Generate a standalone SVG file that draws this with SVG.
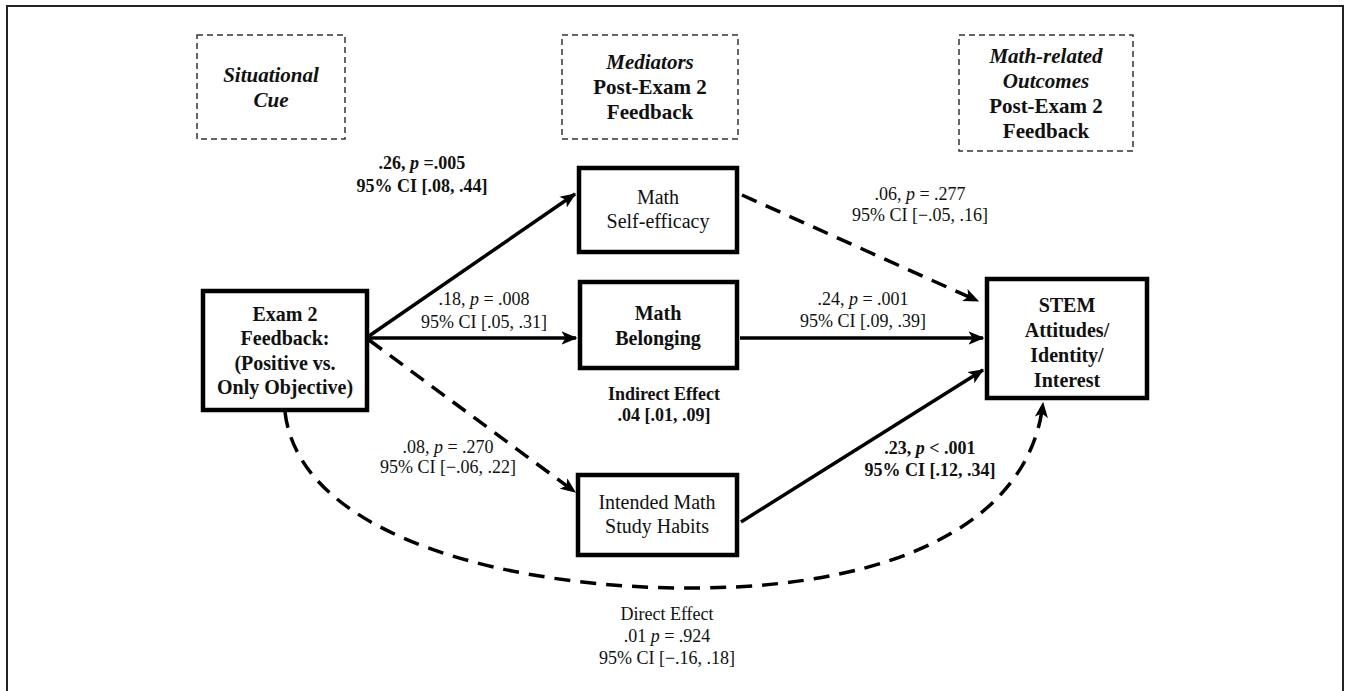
<svg xmlns="http://www.w3.org/2000/svg" width="1346" height="691" viewBox="0 0 1346 691">
<style>
.hdr{fill:none;stroke:#333;stroke-width:1.5;stroke-dasharray:6,4}
.node{fill:#fff;stroke:#000;stroke-width:4.5}
.t{font-family:"Liberation Serif",serif;font-size:20px;fill:#111;text-anchor:middle}
.h{font-family:"Liberation Serif",serif;font-size:21px;fill:#111;text-anchor:middle;font-weight:bold}
.b{font-weight:bold}
.i{font-style:italic}
.lab{font-family:"Liberation Serif",serif;font-size:18px;fill:#111;text-anchor:middle}
.solid{fill:none;stroke:#000;stroke-width:3.5}
.dash{fill:none;stroke:#000;stroke-width:3.5;stroke-dasharray:16,10}
</style>
<defs>
<marker id="ah" viewBox="0 0 12 10" refX="11" refY="5" markerWidth="4.5" markerHeight="4" orient="auto" markerUnits="strokeWidth">
<path d="M0,0 L12,5 L0,10 L3,5 z" fill="#000"/>
</marker>
</defs>
<rect x="7" y="6" width="1336" height="700" fill="none" stroke="#222" stroke-width="2"/>

<g id="hdr-cue">
<rect class="hdr" x="197" y="35" width="148" height="104"/>
<text class="h i" x="271" y="82" font-size="22">Situational</text>
<text class="h i" x="271" y="107" font-size="22">Cue</text>
</g>
<g id="hdr-med">
<rect class="hdr" x="562" y="35" width="176" height="104"/>
<text class="h i" x="650" y="69">Mediators</text>
<text class="h" x="650" y="94">Post-Exam 2</text>
<text class="h" x="650" y="119">Feedback</text>
</g>
<g id="hdr-out">
<rect class="hdr" x="959" y="35" width="174" height="116"/>
<text class="h i" x="1046" y="63">Math-related</text>
<text class="h i" x="1046" y="88">Outcomes</text>
<text class="h" x="1046" y="113">Post-Exam 2</text>
<text class="h" x="1046" y="138">Feedback</text>
</g>

<g id="connectors">
<line class="solid" x1="369" y1="336" x2="575" y2="194" marker-end="url(#ah)"/>
<line class="solid" x1="369" y1="338" x2="576" y2="338" marker-end="url(#ah)"/>
<line class="dash" x1="369" y1="340" x2="575" y2="492" marker-end="url(#ah)"/>
<line class="dash" x1="742" y1="195" x2="978" y2="301" marker-end="url(#ah)"/>
<line class="solid" x1="740" y1="338" x2="983" y2="338" marker-end="url(#ah)"/>
<line class="solid" x1="741" y1="522" x2="983" y2="370" marker-end="url(#ah)"/>
<path class="dash" d="M285,412 C300,540 520,590 700,588 C900,586 1030,520 1043,403" marker-end="url(#ah)"/>
</g>

<g id="n-exam">
<rect class="node" x="203" y="291" width="164" height="119"/>
<text class="t b" x="285" y="321">Exam 2</text>
<text class="t b" x="285" y="345">Feedback:</text>
<text class="t b" x="285" y="370">(Positive vs.</text>
<text class="t b" x="285" y="394">Only Objective)</text>
</g>
<g id="n-self">
<rect class="node" x="579" y="168" width="158" height="84"/>
<text class="t" x="658" y="204">Math</text>
<text class="t" x="658" y="228">Self-efficacy</text>
</g>
<g id="n-belong">
<rect class="node" x="580" y="282" width="157" height="86"/>
<text class="t b" x="658" y="320">Math</text>
<text class="t b" x="658" y="345">Belonging</text>
</g>
<g id="n-study">
<rect class="node" x="578" y="475" width="159" height="80"/>
<text class="t" x="657" y="509">Intended Math</text>
<text class="t" x="657" y="533">Study Habits</text>
</g>
<g id="n-stem">
<rect class="node" x="987" y="279" width="160" height="119"/>
<text class="t b" x="1067" y="312">STEM</text>
<text class="t b" x="1067" y="337">Attitudes/</text>
<text class="t b" x="1067" y="362">Identity/</text>
<text class="t b" x="1067" y="387">Interest</text>
</g>

<g id="labels">
<text class="lab b" x="422" y="169">.26, <tspan class="i">p</tspan> =.005</text>
<text class="lab b" x="422" y="192">95% CI [.08, .44]</text>
<text class="lab" x="484" y="305">.18, <tspan class="i">p</tspan> = .008</text>
<text class="lab" x="484" y="328">95% CI [.05, .31]</text>
<text class="lab" x="920" y="200">.06, <tspan class="i">p</tspan> = .277</text>
<text class="lab" x="920" y="221">95% CI [−.05, .16]</text>
<text class="lab" x="863" y="305">.24, <tspan class="i">p</tspan> = .001</text>
<text class="lab" x="863" y="327">95% CI [.09, .39]</text>
<text class="lab b" x="664" y="400">Indirect Effect</text>
<text class="lab b" x="664" y="421">.04 [.01, .09]</text>
<text class="lab" x="448" y="453">.08, <tspan class="i">p</tspan> = .270</text>
<text class="lab" x="448" y="473">95% CI [−.06, .22]</text>
<text class="lab b" x="930" y="454">.23, <tspan class="i">p</tspan> &lt; .001</text>
<text class="lab b" x="930" y="476">95% CI [.12, .34]</text>
<text class="lab" x="667" y="620">Direct Effect</text>
<text class="lab" x="667" y="642">.01 <tspan class="i">p</tspan> = .924</text>
<text class="lab" x="667" y="664">95% CI [−.16, .18]</text>
</g>
</svg>
